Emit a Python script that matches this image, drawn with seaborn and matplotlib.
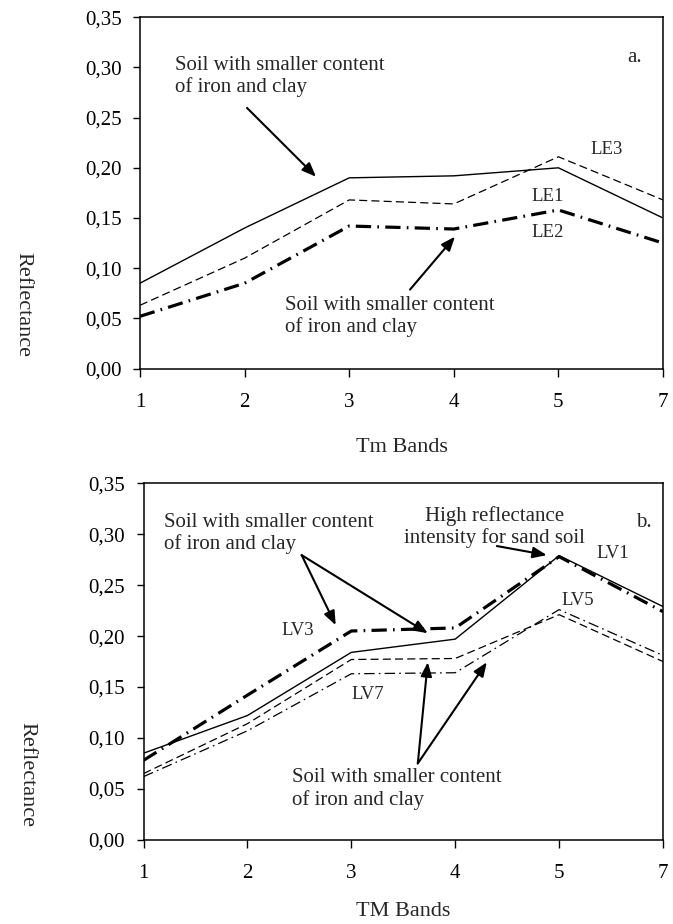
import numpy as np
import pandas as pd
import matplotlib
matplotlib.use("Agg")
import matplotlib.pyplot as plt
import seaborn as sns

# ---------------- data ----------------
bands = ["1", "2", "3", "4", "5", "7"]
y_ticks = [0.00, 0.05, 0.10, 0.15, 0.20, 0.25, 0.30, 0.35]
y_ticklabels = ["0,00", "0,05", "0,10", "0,15", "0,20", "0,25", "0,30", "0,35"]

# panel a
le1 = [0.085, 0.140, 0.190, 0.192, 0.200, 0.150]
le3 = [0.063, 0.110, 0.168, 0.164, 0.211, 0.168]
le2 = [0.052, 0.085, 0.142, 0.139, 0.158, 0.125]
# panel b
lv1 = [0.085, 0.122, 0.184, 0.197, 0.279, 0.229]
lv3 = [0.078, 0.142, 0.205, 0.208, 0.278, 0.224]
lv5 = [0.065, 0.114, 0.177, 0.178, 0.221, 0.175]
lv7 = [0.062, 0.107, 0.163, 0.164, 0.226, 0.181]

# ---------------- style ----------------
sns.set_theme(style="ticks")
plt.rcParams["font.family"] = ["Liberation Serif", "DejaVu Serif"]
plt.rcParams["lines.scale_dashes"] = False
plt.rcParams["axes.linewidth"] = 1.1
plt.rcParams["xtick.major.width"] = 1.0
plt.rcParams["ytick.major.width"] = 1.0

W, H = 673, 924
fig = plt.figure(figsize=(W / 100, H / 100), dpi=100)

def add_ax(left, top, right, bottom):
    return fig.add_axes([left / W, 1 - bottom / H, (right - left) / W, (bottom - top) / H])

ax_a = add_ax(140, 17.3, 663, 368.5)
ax_b = add_ax(143.5, 483.3, 663, 839.8)

pos = np.arange(len(bands))

SOLID = "-"
THIN_DASH = (0, (5.8, 3.0))
THICK_DASHDOT = (0, (11, 4.5, 1.2, 4.5))
THIN_DASHDOT = (0, (7.5, 3.0, 1.2, 3.0))

def draw(ax, vals, ls, lw):
    df = pd.DataFrame({"band": pos, "refl": vals})
    sns.lineplot(data=df, x="band", y="refl", ax=ax, color="black",
                 linestyle=ls, linewidth=lw, dash_capstyle="butt")

draw(ax_a, le1, SOLID, 1.0)
draw(ax_a, le3, THIN_DASH, 0.9)
draw(ax_a, le2, THICK_DASHDOT, 2.3)

draw(ax_b, lv1, SOLID, 1.0)
draw(ax_b, lv3, THICK_DASHDOT, 2.3)
draw(ax_b, lv5, THIN_DASH, 0.9)
draw(ax_b, lv7, THIN_DASHDOT, 0.9)

for ax in (ax_a, ax_b):
    ax.set_xlim(0, len(bands) - 1)
    ax.set_ylim(0, 0.35)
    ax.set_xticks(pos)
    ax.set_xticklabels(bands)
    ax.set_yticks(y_ticks)
    ax.set_yticklabels(y_ticklabels)
    ax.tick_params(axis="x", direction="out", length=5.8, pad=11.5, labelsize=15, colors="black")
    ax.tick_params(axis="y", direction="out", length=4.8, pad=8.4, labelsize=15, colors="black")
    for s in ax.spines.values():
        s.set_visible(True)
        s.set_color("black")
    ax.set_xlabel("")
    ax.set_ylabel("")

AFS = 15
arrow = dict(arrowstyle="-|>,head_length=0.7,head_width=0.28", lw=1.5, color="black",
             shrinkA=0, shrinkB=0)

# ---- annotations panel a ----
ax_a.text(0.335, 0.2906, "Soil with smaller content\nof iron and clay", fontsize=AFS,
          ha="left", va="center", linespacing=1.15)
ax_a.annotate("", xy=(1.683, 0.1911), xytext=(1.023, 0.2597), arrowprops=arrow)
ax_a.text(4.732, 0.3095, "a.", fontsize=AFS, ha="center", va="center")
ax_a.text(4.465, 0.2179, "LE3", fontsize=13.5, ha="center", va="center")
ax_a.text(3.90, 0.1712, "LE1", fontsize=13.5, ha="center", va="center")
ax_a.text(3.90, 0.1353, "LE2", fontsize=13.5, ha="center", va="center")
ax_a.text(1.386, 0.0517, "Soil with smaller content\nof iron and clay", fontsize=AFS,
          ha="left", va="center", linespacing=1.15)
ax_a.annotate("", xy=(3.011, 0.1314), xytext=(2.581, 0.0786), arrowprops=arrow)

# ---- annotations panel b ----
ax_b.text(0.202, 0.3007, "Soil with smaller content\nof iron and clay", fontsize=AFS,
          ha="left", va="center", linespacing=1.15)
ax_b.annotate("", xy=(1.850, 0.2107), xytext=(1.522, 0.2795), arrowprops=arrow)
ax_b.annotate("", xy=(2.736, 0.2028), xytext=(1.522, 0.2795), arrowprops=arrow)
ax_b.text(1.484, 0.2058, "LV3", fontsize=13.5, ha="center", va="center")
ax_b.text(3.376, 0.3071, "High reflectance\nintensity for sand soil", fontsize=AFS,
          ha="center", va="center", linespacing=1.15)
ax_b.annotate("", xy=(3.882, 0.2795), xytext=(3.401, 0.2884), arrowprops=arrow)
ax_b.text(4.817, 0.3111, "b.", fontsize=AFS, ha="center", va="center")
ax_b.text(4.518, 0.2815, "LV1", fontsize=13.5, ha="center", va="center")
ax_b.text(4.181, 0.2353, "LV5", fontsize=13.5, ha="center", va="center")
ax_b.text(2.158, 0.1429, "LV7", fontsize=13.5, ha="center", va="center")
ax_b.text(1.426, 0.0499, "Soil with smaller content\nof iron and clay", fontsize=AFS,
          ha="left", va="center", linespacing=1.15)
ax_b.annotate("", xy=(2.736, 0.1743), xytext=(2.640, 0.0750), arrowprops=arrow)
ax_b.annotate("", xy=(3.304, 0.1743), xytext=(2.640, 0.0750), arrowprops=arrow)

# ---- axis titles ----
fig.text(23 / W, 1 - 305 / H, "Reflectance", rotation=270, fontsize=16, ha="center", va="center")
fig.text(27 / W, 1 - 775 / H, "Reflectance", rotation=270, fontsize=16, ha="center", va="center")
fig.text(401.5 / W, 1 - 448 / H, "Tm Bands", fontsize=16, ha="center", va="center")
fig.text(403.5 / W, 1 - 911 / H, "TM Bands", fontsize=16, ha="center", va="center")

fig.savefig("out.png", dpi=100, facecolor="white")
